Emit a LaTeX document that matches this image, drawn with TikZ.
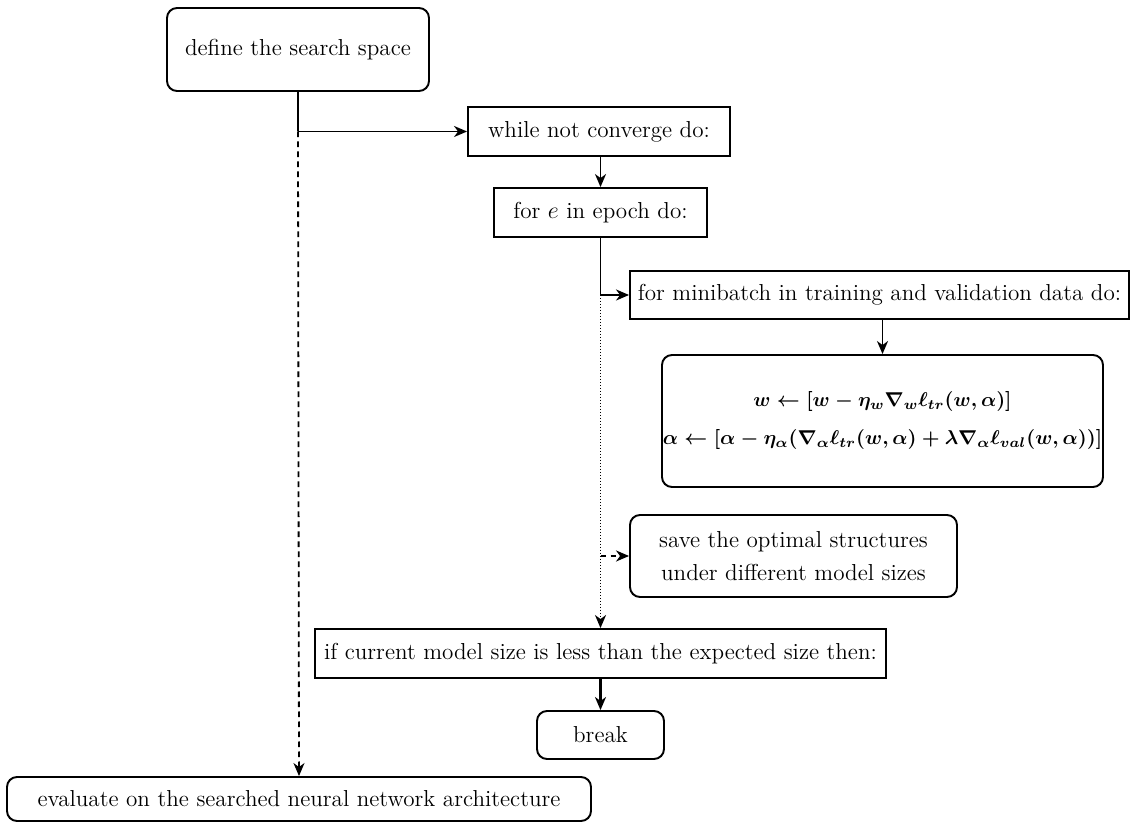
\documentclass[tikz,border=0pt]{standalone}
\usepackage{amsmath}
\usetikzlibrary{arrows.meta,calc}
\begin{document}
\begin{tikzpicture}[x=0.5pt,y=-0.5pt,
  every node/.style={font=\fontsize{11.55}{13.9}\selectfont},
  box/.style={draw,line width=0.95pt,inner sep=0pt,align=center},
  rbox/.style={box,rounded corners=5pt},
  sz/.style 2 args={minimum width=#1*0.5pt,minimum height=#2*0.5pt},
  link/.style={line width=0.9pt,-{Stealth[length=6.5pt,width=5.5pt,inset=2pt]}},
  plain/.style={line width=0.9pt},
  dsh/.style={dash pattern=on 2.8pt off 2.2pt},
  dts/.style={dash pattern=on 0.6pt off 0.9pt}]
\useasboundingbox (0,0) rectangle (1130,823);

% boxes
\node[rbox,sz={262}{83}] (def) at (298,49.5) {define the search space};
\node[box,sz={262}{49}] (loop) at (599,131.5) {while not converge do:};
\node[box,sz={213}{49}] (epoch) at (600.5,212.5) {for $e$ in epoch do:};
\node[box,sz={499}{48}] (mini) at (879.5,295) {for minibatch in training and validation data do:};
\node[rbox,sz={441}{132},font=\fontsize{10}{12}\selectfont\boldmath] (upd) at (882.5,421)
  {$w \leftarrow \left[w-\eta_w\nabla_w\ell_{tr}(w,\alpha)\right]$\\[7pt]
   $\alpha \leftarrow \left[\alpha-\eta_\alpha(\nabla_\alpha\ell_{tr}(w,\alpha)+\lambda\nabla_\alpha\ell_{val}(w,\alpha))\right]$};
\node[rbox,sz={327}{82}] (save) at (793.5,556) {save the optimal structures\\[3pt] under different model sizes};
\node[box,sz={571}{49}] (cond) at (600.5,653.5) {if current model size is less than the expected size then:};
\node[rbox,sz={127}{48}] (brk) at (600.5,735) {break};
\node[rbox,sz={584}{44}] (eval) at (299,799) {evaluate on the searched neural network architecture};

% junction points on the two vertical spines
\coordinate (j1) at (def.south |- loop.west);
\coordinate (j2) at (epoch.south |- mini.west);
\coordinate (j3) at (epoch.south |- save.west);

% connectors
\draw[plain] (def.south) -- (j1);
\draw[link] (j1) -- (loop.west);
\draw[link,dsh] (j1) -- (eval.north);
\draw[link] (epoch.north |- loop.south) -- (epoch.north);
\draw[plain] (epoch.south) -- (j2);
\draw[link] (j2) -- (mini.west);
\draw[link,dts] (j2) -- (cond.north);
\draw[link,dsh] (j3) -- (save.west);
\draw[link] (upd.north |- mini.south) -- (upd.north);
\draw[link,line width=1.3pt] (cond.south) -- (brk.north);
\end{tikzpicture}
\end{document}
